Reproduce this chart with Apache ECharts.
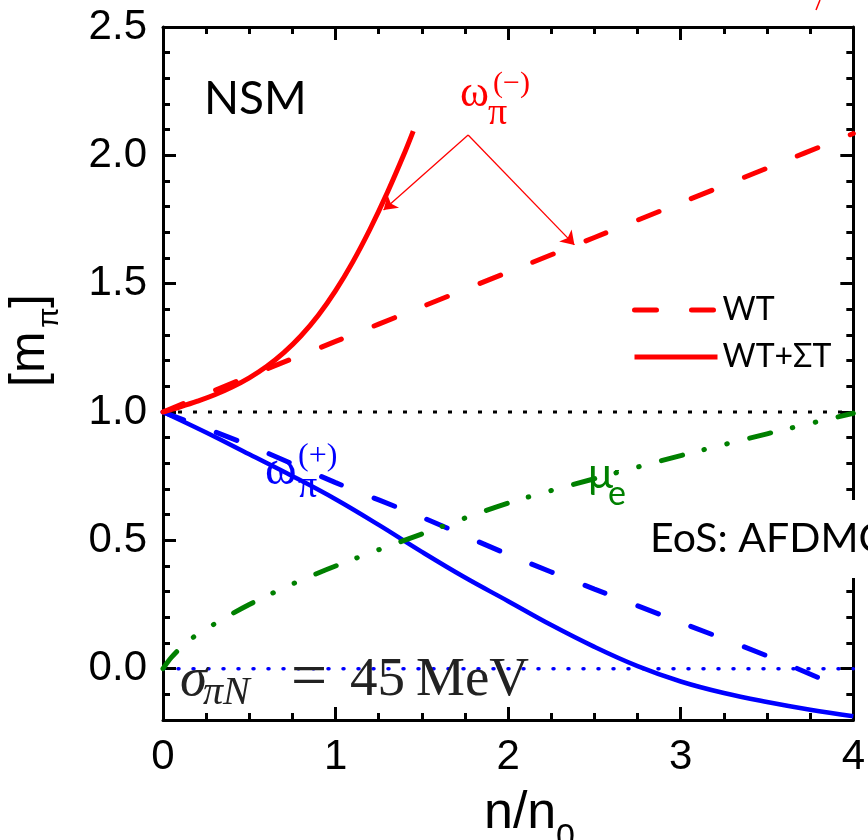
<!DOCTYPE html>
<html><head><meta charset="utf-8">
<script src="https://cdn.jsdelivr.net/npm/echarts@6/dist/echarts.min.js"></script>
<style>html,body{margin:0;padding:0;background:#fff}#c{width:868px;height:840px}</style>
</head><body><div id="c"></div>
<script>
// ---- data ----
const xTickValues = [0, 1, 2, 3, 4];
const yTickValues = [0.0, 0.5, 1.0, 1.5, 2.0, 2.5];

const nRedSolid = [0, 0.1, 0.2, 0.3, 0.4, 0.5, 0.6, 0.7, 0.8, 0.9, 1.0, 1.1, 1.2, 1.3, 1.4, 1.45];
const omegaMinusWTST = [1.0, 1.02, 1.042, 1.067, 1.097, 1.133, 1.177, 1.231, 1.297, 1.377, 1.473, 1.585, 1.713, 1.855, 2.010, 2.094];

const nRedDash = [0, 0.5, 1, 1.5, 2, 2.5, 3, 3.5, 4];
const omegaMinusWT = [1.0, 1.14, 1.275, 1.41, 1.545, 1.68, 1.815, 1.95, 2.085];

const nBlueSolid = [0, 0.25, 0.5, 0.75, 1, 1.25, 1.5, 1.75, 2, 2.25, 2.5, 2.75, 3, 3.25, 3.5, 3.75, 4];
const omegaPlusWTST = [1.0, 0.92, 0.835, 0.75, 0.66, 0.56, 0.455, 0.355, 0.263, 0.17, 0.085, 0.01, -0.05, -0.095, -0.13, -0.16, -0.185];

const nBlueDash = [0, 0.5, 1, 1.5, 2, 2.5, 3, 3.5, 3.85];
const omegaPlusWT = [1.0, 0.87, 0.725, 0.59, 0.445, 0.31, 0.18, 0.05, -0.05];

const nGreen = [0, 0.05, 0.15, 0.3, 0.5, 0.75, 1, 1.5, 2, 2.5, 3, 3.5, 4];
const muE = [0, 0.045, 0.11, 0.175, 0.25, 0.33, 0.40, 0.525, 0.645, 0.74, 0.83, 0.915, 0.995];

const refX = [0, 4];
const refOne = [1, 1];
const refZero = [0, 0];

const arrowFrom = [1.768, 2.079];
const arrowTips = [[1.278, 1.787], [2.384, 1.651]];

// ---- build ----
const zip = (xs, ys) => xs.map((x, i) => [x, ys[i]]);
const RED = '#ff0000', BLUE = '#0000ff', GREEN = '#008000';

const chart = echarts.init(document.getElementById('c'), null, {renderer: 'canvas'});

const axisLineStyle = {color: '#000', width: 3};
function xAx(pos, labels) {
  return {
    type: 'value', position: pos, min: 0, max: 4, interval: 1,
    axisLine: {show: true, onZero: false, lineStyle: axisLineStyle},
    axisTick: {show: true, inside: true, length: 13, lineStyle: {color: '#000', width: 3}},
    minorTick: {show: true, splitNumber: 4, length: 7, lineStyle: {color: '#000', width: 3}},
    axisLabel: labels ? {show: true, fontSize: 42, fontFamily: 'Liberation Sans', color: '#000', margin: 16} : {show: false},
    splitLine: {show: false}, minorSplitLine: {show: false}
  };
}
function yMinor(pos, labels) {
  return {
    type: 'value', position: pos, min: -0.2, max: 2.5, interval: 0.1,
    axisLine: {show: true, onZero: false, lineStyle: axisLineStyle},
    axisTick: {show: true, inside: true, length: 7, lineStyle: {color: '#000', width: 3}},
    axisLabel: labels ? {
      show: true, fontSize: 42, fontFamily: 'Liberation Sans', color: '#000', margin: 16,
      formatter: v => {
        const r = Math.round(v * 10) / 10;
        return (r >= 0 && Math.abs(r * 2 - Math.round(r * 2)) < 1e-6) ? r.toFixed(1) : '';
      }
    } : {show: false},
    splitLine: {show: false}
  };
}
function yMajor(pos) {
  return {
    type: 'value', position: pos, min: -0.2, max: 2.5,
    axisLine: {show: false, onZero: false},
    axisTick: {show: true, inside: true, length: 13, customValues: yTickValues, lineStyle: {color: '#000', width: 3}},
    axisLabel: {show: false, customValues: yTickValues},
    splitLine: {show: false}
  };
}

const lineBase = {type: 'line', symbol: 'none', showSymbol: false, silent: true, xAxisIndex: 0, yAxisIndex: 0};
const dashRed = {color: RED, width: 5, type: [22, 35], cap: 'round'};
const solidRed = {color: RED, width: 5, type: 'solid'};

const option = {
  animation: false,
  backgroundColor: '#fff',
  grid: {left: 163, right: 11, top: 27, bottom: 120, containLabel: false},
  xAxis: [xAx('bottom', true), xAx('top', false)],
  yAxis: [yMinor('left', true), yMajor('left'), yMinor('right', false), yMajor('right')],
  legend: {
    data: [
      {name: 'WT', lineStyle: dashRed, itemStyle: {opacity: 0}},
      {name: 'WT+ΣT', lineStyle: solidRed, itemStyle: {opacity: 0}}
    ],
    orient: 'vertical', left: 627, top: 288,
    itemWidth: 83, itemHeight: 14, itemGap: 13, selectedMode: false,
    itemStyle: {opacity: 0},
    textStyle: {fontSize: 32, fontFamily: 'Lato', color: '#000', lineHeight: 34}
  },
  series: [
    Object.assign({}, lineBase, {name: 'ref1', data: zip(refX, refOne), z: 1,
      lineStyle: {color: '#000', width: 3, type: [4, 11]}}),
    Object.assign({}, lineBase, {name: 'ref0', data: zip(refX, refZero), z: 1,
      lineStyle: {color: BLUE, width: 3.5, type: [1, 14], cap: 'round'}}),
    Object.assign({}, lineBase, {name: 'mue', data: zip(nGreen, muE), smooth: 0.3, z: 3,
      lineStyle: {color: GREEN, width: 5, type: [22, 22, 0.5, 23, 0.5, 23], cap: 'round'}}),
    Object.assign({}, lineBase, {name: 'WT+', data: zip(nBlueDash, omegaPlusWT), smooth: 0.3, z: 2,
      lineStyle: {color: BLUE, width: 5, type: [22, 35], cap: 'round'}}),
    Object.assign({}, lineBase, {name: 'WTST+', data: zip(nBlueSolid, omegaPlusWTST), smooth: 0.4, z: 2,
      lineStyle: {color: BLUE, width: 4.5, type: 'solid'}}),
    Object.assign({}, lineBase, {name: 'WT', data: zip(nRedDash, omegaMinusWT), smooth: 0.3, z: 2,
      color: RED, lineStyle: dashRed}),
    Object.assign({}, lineBase, {name: 'WT+ΣT', data: zip(nRedSolid, omegaMinusWTST), smooth: 0.4, z: 2,
      color: RED, lineStyle: solidRed,
      markLine: {
        silent: true, animation: false, symbol: ['none', 'arrow'], symbolSize: 13,
        lineStyle: {color: RED, width: 1.3, type: 'solid'}, label: {show: false},
        data: arrowTips.map(t => [{coord: arrowFrom}, {coord: t}])
      }})
  ],
  graphic: [
    {type: 'text', x: 204, y: 99, z: 100, style: {text: 'NSM', font: '46px Lato', fill: '#000', verticalAlign: 'middle'}},
    // omega minus label
    {type: 'text', x: 460, y: 94, z: 100, style: {text: 'ω', font: '44px "Liberation Serif"', fill: RED, verticalAlign: 'middle'}},
    {type: 'text', x: 493, y: 84, z: 100, style: {text: '(−)', font: '30px "Liberation Serif"', fill: RED, verticalAlign: 'middle'}},
    {type: 'text', x: 488, y: 114, z: 100, style: {text: 'π', font: '38px "Liberation Serif"', fill: RED, verticalAlign: 'middle'}},
    // omega plus label
    {type: 'text', x: 265, y: 471, z: 100, style: {text: 'ω', font: '48px "Liberation Serif"', fill: BLUE, verticalAlign: 'middle'}},
    {type: 'text', x: 298, y: 457, z: 100, style: {text: '(+)', font: '32px "Liberation Serif"', fill: BLUE, verticalAlign: 'middle'}},
    {type: 'text', x: 298, y: 487, z: 100, style: {text: 'π', font: '38px "Liberation Serif"', fill: BLUE, verticalAlign: 'middle'}},
    // mu_e label
    {type: 'text', x: 588, y: 474, z: 100, style: {text: 'μ', font: '42px Lato', fill: GREEN, verticalAlign: 'middle'}},
    {type: 'text', x: 608, y: 494, z: 100, style: {text: 'e', font: '34px Lato', fill: GREEN, verticalAlign: 'middle'}},
    {type: 'text', x: 614, y: 470, z: 100, style: {text: '-', font: '16px Lato', fill: GREEN, verticalAlign: 'middle'}},
    // EoS box
    {type: 'text', x: 642, y: 500, z: 100, style: {text: 'EoS: AFDMC', font: '41px Lato', fill: '#000', verticalAlign: 'top',
      lineHeight: 48, backgroundColor: '#fff', padding: [15, 30, 15, 8]}},
    // sigma label
    {type: 'text', x: 180, y: 681, z: 100, style: {text: 'σ', font: 'italic 55px "Liberation Serif"', fill: '#222', verticalAlign: 'middle'}},
    {type: 'text', x: 203, y: 693, z: 100, style: {text: 'πN', font: 'italic 40px "Liberation Serif"', fill: '#222', verticalAlign: 'middle'}},
    {type: 'text', x: 291, y: 679, z: 100, style: {text: '=', font: '64px "Liberation Serif"', fill: '#222', verticalAlign: 'middle'}},
    {type: 'text', x: 350, y: 681, z: 100, style: {text: '45\u2009MeV', font: '55px "Liberation Serif"', fill: '#222', verticalAlign: 'middle'}},
    // y axis title
    {type: 'group', x: 35, y: 340, rotation: Math.PI / 2, z: 100, children: [
      {type: 'text', x: -47, y: -5, style: {text: '[m', font: '50px "Liberation Sans"', fill: '#000', verticalAlign: 'middle'}},
      {type: 'text', x: 12, y: 15, style: {text: 'π', font: '30px "Liberation Sans"', fill: '#000', verticalAlign: 'middle'}},
      {type: 'text', x: 32, y: -5, style: {text: ']', font: '50px "Liberation Sans"', fill: '#000', verticalAlign: 'middle'}}
    ]},
    // x axis title
    {type: 'text', x: 484, y: 814, z: 100, style: {text: 'n/n', font: '52px "Liberation Sans"', fill: '#000', verticalAlign: 'middle'}},
    {type: 'text', x: 556, y: 838, z: 100, style: {text: '0', font: '34px "Liberation Sans"', fill: '#000', verticalAlign: 'middle'}},
    // small red stroke cut by the top edge
    {type: 'line', z: 100, shape: {x1: 816, y1: 10, x2: 820, y2: 0}, style: {stroke: RED, lineWidth: 1.5}}
  ]
};
chart.setOption(option);
</script>
</body></html>
